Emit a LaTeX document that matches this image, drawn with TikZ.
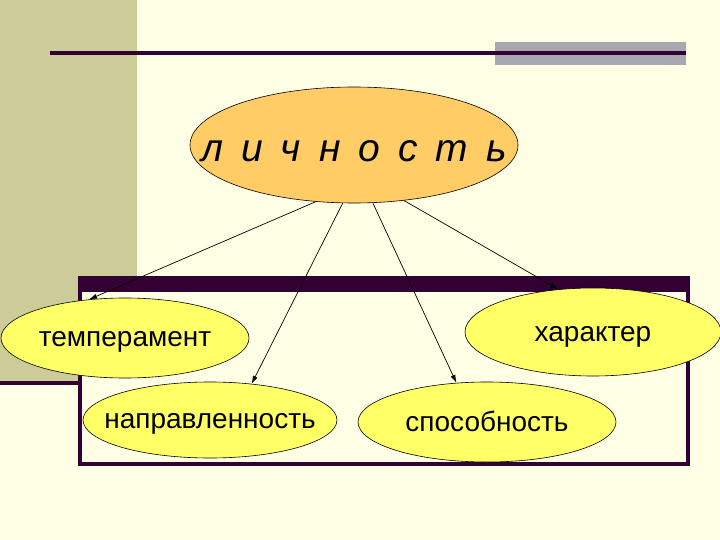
\documentclass[tikz,border=0pt]{standalone}
\usepackage{fontspec}
\setmainfont{Liberation Sans}
\usetikzlibrary{shapes.geometric}
\usetikzlibrary{arrows.meta}
\definecolor{paper}{RGB}{255,255,229}
\definecolor{bandcol}{RGB}{204,204,153}
\definecolor{plum}{RGB}{51,0,51}
\definecolor{steel}{RGB}{168,168,178}
\definecolor{peach}{RGB}{255,204,102}
\definecolor{lemon}{RGB}{255,255,102}
\newcommand{\gap}{\hspace{18pt}}

\begin{document}
\begin{tikzpicture}[
    x=1pt, y=-1pt,
    core/.style={ellipse, draw=black, line width=0.6pt, fill=peach, inner sep=0pt},
    trait/.style={ellipse, draw=black, line width=0.6pt, fill=lemon, inner sep=0pt},
    word/.style={anchor=base, inner sep=0pt, font=\fontsize{28}{30}\selectfont},
    >={Latex[length=8pt, width=5pt]}
]
    \useasboundingbox (0,0) rectangle (720,540);

    % Background
    \fill[paper] (0,0) rectangle (720,540);
    \fill[bandcol] (0,0) rectangle (137,383);
    \draw[plum, line width=4pt] (0,383) -- (80,383);
    \fill[steel] (495,42) rectangle (686,65);
    \draw[plum, line width=4.5pt] (50,53) -- (686,53);

    % Frame
    \draw[plum, line width=4pt, fill=paper] (80,284) rectangle (688,464);
    \fill[plum] (78,276) rectangle (690,292);

    % Ellipses
    \node[core, minimum width=328pt, minimum height=116pt] (pers) at (354,145) {};
    \node[trait, minimum width=248pt, minimum height=80pt] (temp) at (125,338) {};
    \node[trait, minimum width=254pt, minimum height=76pt] (napr) at (210,420) {};
    \node[trait, minimum width=256pt, minimum height=88pt] (char) at (593,332) {};
    \node[trait, minimum width=258pt, minimum height=80pt] (spos) at (487,422) {};

    % Texts
    \node[word, font=\fontsize{39}{40}\selectfont\itshape, yshift=-17pt] (perst) at (pers) {л\gap и\gap ч\gap н\gap о\gap с\gap т\gap ь};
    \node[word, yshift=-8pt] (tempt) at (temp) {темперамент};
    \node[word, yshift=-8pt] (naprt) at (napr) {направленность};
    \node[word, yshift=-9pt] (chart) at (char) {характер};
    \node[word, yshift=-9pt] (spost) at (spos) {способность};

    % Arrows
    \draw[->, line width=0.7pt] (pers.236) -- (temp.133);
    \draw[->, line width=0.7pt] (pers.259) -- (napr.41);
    \draw[->, line width=0.7pt] (pers.288) -- (spos.128);
    \draw[->, line width=0.7pt] (pers.312) -- (char.129);
\end{tikzpicture}
\end{document}
